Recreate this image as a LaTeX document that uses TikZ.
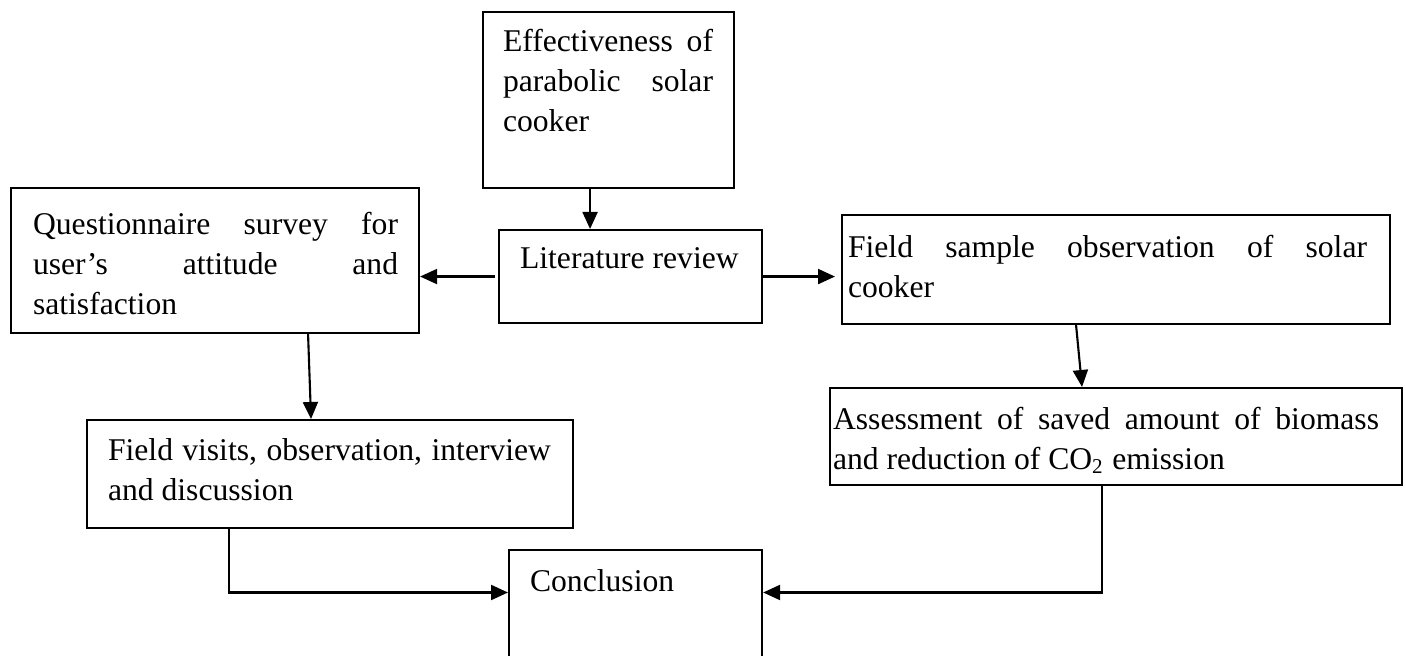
\documentclass[tikz,border=0pt]{standalone}
\usepackage{fontspec}
\setmainfont{Liberation Serif}
\usetikzlibrary{arrows.meta}

% box text: width, height, top gap, left gap, right gap, text
\newcommand{\stagetext}[6]{\parbox[c][#2][t]{#1}{\parindent=0pt\leftskip=#4\rightskip=#5\tolerance=10000\hyphenpenalty=10000\vspace*{#3}#6}}

\begin{document}
\begin{tikzpicture}[
    every node/.style = {font = \fontsize{9}{11.3}\selectfont},
    stage/.style      = {draw, semithick, inner sep = 0pt, anchor = north west},
    arr/.style        = {-{Triangle[length=1.7mm, width=1.5mm]}, semithick},
]
\useasboundingbox (0,0) rectangle (14.06,-6.56);
\clip (0,0) rectangle (14.06,-6.56);

% ---------- boxes, placed by their north west corners (cm) ----------
\node[stage] (eff)    at (4.82,-0.11) {\stagetext{2.51cm}{1.76cm}{0.174cm}{0.20cm}{0.21cm}{Effectiveness of\linebreak parabolic solar\linebreak cooker}};
\node[stage] (lit)    at (4.98,-2.29) {\stagetext{2.63cm}{0.93cm}{0.175cm}{0.21cm}{0pt}{Literature review}};
\node[stage] (quest)  at (0.10,-1.87) {\stagetext{4.08cm}{1.45cm}{0.245cm}{0.22cm}{0.21cm}{Questionnaire survey for\linebreak user's attitude and\linebreak satisfaction}};
\node[stage] (fs)     at (8.41,-2.14) {\stagetext{5.48cm}{1.09cm}{0.20cm}{0.06cm}{0.23cm}{Field sample observation of solar\linebreak cooker}};
\node[stage] (assess) at (8.29,-3.87) {\stagetext{5.72cm}{0.97cm}{0.195cm}{0.03cm}{0.23cm}{Assessment of saved amount of biomass\linebreak and reduction of CO\textsubscript{2} emission}};
\node[stage] (fv)     at (0.86,-4.19) {\stagetext{4.86cm}{1.08cm}{0.185cm}{0.21cm}{0.22cm}{Field visits, observation, interview\linebreak and discussion}};
\node[stage] (concl)  at (5.08,-5.49) {\stagetext{2.53cm}{1.35cm}{0.195cm}{0.21cm}{0pt}{Conclusion}};

% ---------- connectors ----------
\draw[arr] ([xshift=-1.85mm]eff.south) -- ([xshift=-1.85mm]eff.south |- lit.north);
\draw[arr, shorten <=0.3mm] (lit.west) -- (lit.west -| quest.east);
\draw[arr, shorten >=0.6mm] (lit.east) -- (lit.east -| fs.west);
\draw[arr] ([xshift=9.3mm]quest.south) -- ([xshift=-1.9mm]fv.north);
\draw[arr] ([xshift=-4mm]fs.south) -- ([xshift=-3.4mm]assess.north);
\draw[arr] ([xshift=-10.1mm]fv.south) |- ([yshift=-4.35mm]concl.north west);
\draw[arr] ([xshift=-1.4mm]assess.south) |- ([yshift=-4.35mm]concl.north east);

\end{tikzpicture}
\end{document}
